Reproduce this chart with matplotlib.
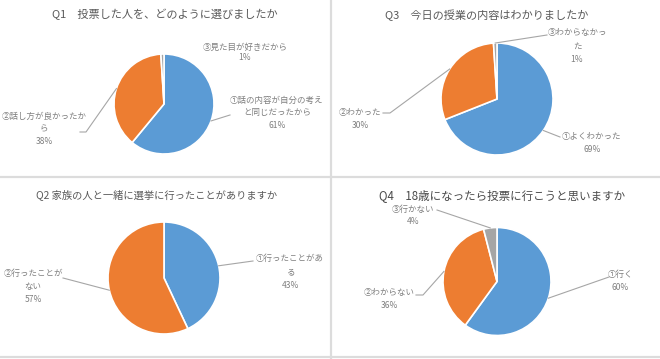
import numpy as np
import matplotlib
matplotlib.use("Agg")
import matplotlib.pyplot as plt

plt.rcParams['font.family'] = ['Noto Sans CJK JP', 'DejaVu Sans']

# ---------------- data ----------------
q1_title = "Q1　投票した人を、どのように選びましたか"
q1_labels = ["①話の内容が自分の考え\nと同じだったから", "②話し方が良かったか\nら", "③見た目が好きだから"]
q1_values = [61, 38, 1]

q3_title = "Q3　今日の授業の内容はわかりましたか"
q3_labels = ["①よくわかった", "②わかった", "③わからなかっ\nた"]
q3_values = [69, 30, 1]

q2_title = "Q2 家族の人と一緒に選挙に行ったことがありますか"
q2_labels = ["①行ったことがあ\nる", "②行ったことが\nない"]
q2_values = [43, 57]

q4_title = "Q4　18歳になったら投票に行こうと思いますか"
q4_labels = ["①行く", "②わからない", "③行かない"]
q4_values = [60, 36, 4]

colors = ["#5B9BD5", "#ED7D31", "#A5A5A5"]

W, H = 660, 359
fig = plt.figure(figsize=(W / 100, H / 100), dpi=100)
ax = fig.add_axes([0, 0, 1, 1])
ax.set_xlim(0, W)
ax.set_ylim(0, H)
ax.set_aspect('equal')
ax.axis('off')

def Y(y):
    return H - y

# panel separators
sep = "#dcdcdc"
ax.plot([331, 331], [Y(0), Y(359)], color=sep, lw=1.6)
ax.plot([0, 660], [Y(177), Y(177)], color=sep, lw=1.6)
ax.plot([0, 660], [Y(356.5), Y(356.5)], color=sep, lw=1.6)

label_color = "#7f7f7f"
line_color = "#a6a6a6"

panels = [
    dict(title=q1_title, tpos=(165, 14), tsize=8.0, tcolor="#595959",
         labels=q1_labels, values=q1_values, center=(164, 104), r=50,
         lpos=[(277, 100, 12.5), (44, 116, 12.5), (245, 47, 10.5)],
         leaders=[[(230, 115)], [(86, 132), (80, 132)], None]),
    dict(title=q3_title, tpos=(487, 15), tsize=8.0, tcolor="#595959",
         labels=q3_labels, values=q3_values, center=(497, 99), r=56,
         lpos=[(592, 137, 12.5), (360, 113, 13), (577, 33, 13.5)],
         leaders=[[(560, 137)], [(390, 113), (383, 113)], [(547, 35)]]),
    dict(title=q2_title, tpos=(157, 195), tsize=7.4, tcolor="#595959",
         labels=q2_labels, values=q2_values, center=(164, 278), r=56,
         lpos=[(290, 258, 13.5), (33, 273, 13.5)],
         leaders=[[(253, 261)], [(63, 278)]]),
    dict(title=q4_title, tpos=(502, 196), tsize=8.3, tcolor="#4a4a4a",
         labels=q4_labels, values=q4_values, center=(497, 281.5), r=54,
         lpos=[(620, 274, 14), (389, 293, 13), (413, 209, 13)],
         leaders=[[(609, 277)], [(423, 295), (416, 295)], [(437, 210)]]),
]

for p in panels:
    cx, cy = p["center"]
    vals = p["values"]
    wedges, _ = ax.pie(vals, colors=colors[:len(vals)], startangle=90, counterclock=False,
                       center=(cx, Y(cy)), radius=p["r"],
                       wedgeprops=dict(edgecolor="white", linewidth=1.2))
    ax.text(p["tpos"][0], Y(p["tpos"][1]), p["title"], ha="center", va="center",
            fontsize=p["tsize"], color=p["tcolor"])
    for w, lab, v, (lx, ly, step), lead in zip(wedges, p["labels"], vals, p["lpos"], p["leaders"]):
        lines = lab.split("\n") + [f"{v}%"]
        for i, s in enumerate(lines):
            ax.text(lx, Y(ly + i * step), s, ha="center", va="center",
                    fontsize=6.1, color=label_color)
        if lead is not None:
            mid = np.deg2rad((w.theta1 + w.theta2) / 2)
            ex = cx + p["r"] * np.cos(mid)
            ey = Y(cy) + p["r"] * np.sin(mid)
            xs = [ex] + [pt[0] for pt in lead]
            ys = [ey] + [Y(pt[1]) for pt in lead]
            ax.plot(xs, ys, color=line_color, lw=0.8)

ax.set_xlim(0, W)
ax.set_ylim(0, H)
fig.savefig("out.png", dpi=100)
